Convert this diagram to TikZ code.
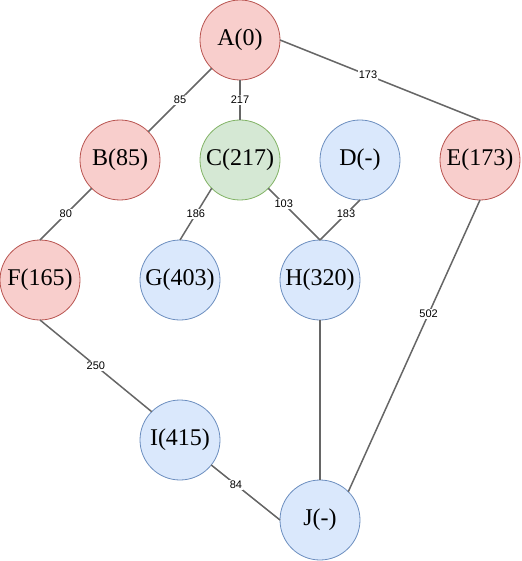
\documentclass[tikz,border=0pt]{standalone}
\usepackage{fontspec}
\setmainfont{Liberation Serif}
\newfontfamily\lblfont{Liberation Sans}
\usetikzlibrary{shapes.geometric}
\definecolor{redfill}{HTML}{F8CECC}
\definecolor{redline}{HTML}{B85450}
\definecolor{greenfill}{HTML}{D5E8D4}
\definecolor{greenline}{HTML}{82B366}
\definecolor{bluefill}{HTML}{DAE8FC}
\definecolor{blueline}{HTML}{6C8EBF}
\definecolor{kante}{HTML}{666666}

\begin{document}
\begin{tikzpicture}[x=1pt,y=-1pt,
	knoten/.style={circle,minimum size=80pt,inner sep=0pt,outer sep=0pt,line width=0.8pt,font=\fontsize{24}{28}\selectfont},
	rot/.style={knoten,draw=redline,fill=redfill},
	gruen/.style={knoten,draw=greenline,fill=greenfill},
	blau/.style={knoten,draw=blueline,fill=bluefill},
	kante/.style={draw=kante,line width=1.5pt},
	gewicht/.style={fill=white,inner sep=1pt,font=\lblfont\fontsize{11}{13}\selectfont}]
	\useasboundingbox (0,0) rectangle (521,561);
	\node[rot,name=A] at (240,40) {A(0)};
	\node[rot,name=B] at (120,160) {B(85)};
	\node[gruen,name=C] at (240,160) {C(217)};
	\node[blau,name=D] at (360,160) {D(-)};
	\node[rot,name=E] at (480,160) {E(173)};
	\node[rot,name=F] at (40,280) {F(165)};
	\node[blau,name=G] at (180,280) {G(403)};
	\node[blau,name=H] at (320,280) {H(320)};
	\node[blau,name=I] at (180,440) {I(415)};
	\node[blau,name=J] at (320,520) {J(-)};
	\draw[kante] (A) -- node[gewicht] {85} (B);
	\draw[kante] (A) -- node[gewicht] {217} (C);
	\draw[kante] (A.east) -- node[gewicht,pos=0.44] {173} (E.north);
	\draw[kante] (B.south west) -- node[gewicht] {80} (F.north);
	\draw[kante] (C.south west) -- node[gewicht] {186} (G.north);
	\draw[kante] (C.south east) -- node[gewicht,pos=0.3] {103} (H.north);
	\draw[kante] (D.south) -- node[gewicht,pos=0.35] {183} (H.north);
	\draw[kante] (H) -- (J);
	\draw[kante] (E.south) -- node[gewicht,pos=0.39] {502} (J.north east);
	\draw[kante] (F.south) -- node[gewicht] {250} (I.north west);
	\draw[kante] (I) -- node[gewicht,pos=0.36] {84} (J.west);
\end{tikzpicture}
\end{document}
